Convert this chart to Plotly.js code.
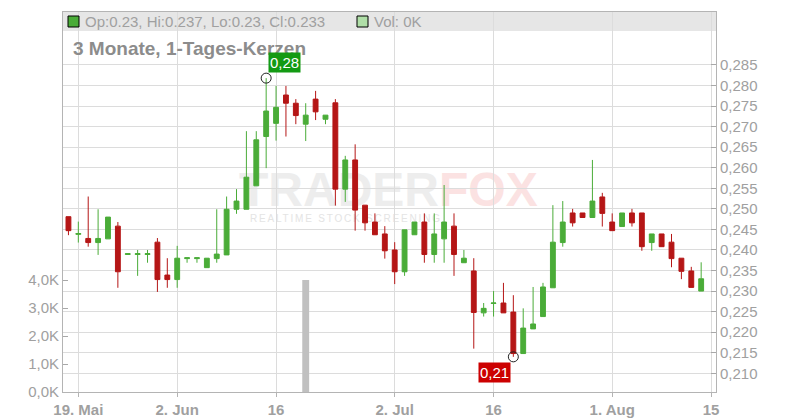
<!DOCTYPE html>
<html><head><meta charset="utf-8">
<script src="https://cdn.plot.ly/plotly-3.0.1.min.js"></script>
<style>
html,body{margin:0;padding:0;background:#fff;}
#wrap{position:relative;width:800px;height:420px;overflow:hidden;}
#wm1{position:absolute;left:239px;top:171px;font-family:'Liberation Sans',Arial,sans-serif;font-weight:bold;font-size:48px;line-height:38px;height:38px;white-space:nowrap;}
#wm2{position:absolute;left:250px;top:213.5px;font-family:'Liberation Sans',Arial,sans-serif;font-size:10px;line-height:10px;letter-spacing:1.8px;color:#e4e4e4;white-space:nowrap;}
#chart{position:absolute;left:0;top:0;width:800px;height:420px;}
</style></head>
<body><div id="wrap">
<div id="wm1"><span style="color:#ededed">TRADER</span><span style="color:#fbe2e2">FOX</span></div>
<div id="wm2">REALTIME STOCK SCREENING</div>
<div id="chart"></div>
</div>
<script>
const dates = ['2025-05-16',
 '2025-05-19','2025-05-20','2025-05-21','2025-05-22','2025-05-23',
 '2025-05-26','2025-05-27','2025-05-28','2025-05-29','2025-05-30',
 '2025-06-02','2025-06-03','2025-06-04','2025-06-05','2025-06-06',
 '2025-06-09','2025-06-10','2025-06-11','2025-06-12','2025-06-13',
 '2025-06-16','2025-06-17','2025-06-18','2025-06-19','2025-06-20',
 '2025-06-23','2025-06-24','2025-06-25','2025-06-26','2025-06-27',
 '2025-06-30','2025-07-01','2025-07-02','2025-07-03','2025-07-04',
 '2025-07-07','2025-07-08','2025-07-09','2025-07-10','2025-07-11',
 '2025-07-14','2025-07-15','2025-07-16','2025-07-17','2025-07-18',
 '2025-07-21','2025-07-22','2025-07-23','2025-07-24','2025-07-25',
 '2025-07-28','2025-07-29','2025-07-30','2025-07-31','2025-08-01',
 '2025-08-04','2025-08-05','2025-08-06','2025-08-07','2025-08-08',
 '2025-08-11','2025-08-12','2025-08-13','2025-08-14'];
const open = [.2481,.2438,.2428,.2418,.2427,.2458,.2389,.2389,.2389,.2419,
 .2339,.2328,.2379,.2379,.2357,.2379,.2388,.2499,.2499,.2556,
 .2676,.2708,.2777,.2757,.2706,.2767,.2718,.2758,.2548,.2619,
 .2509,.2468,.2439,.2400,.2347,.2437,.2468,.2389,.2427,.2458,
 .2369,.2349,.2247,.2270,.2271,.2249,.2148,.2208,.2238,.2308,
 .2418,.2490,.2490,.2479,.2529,.2468,.2457,.2490,.2490,.2418,
 .2439,.2419,.2380,.2349,.2300];
const high = [.2481,.2469,.2530,.2499,.2480,.2468,.2391,.2400,.2400,.2429,
 .2380,.2410,.2381,.2381,.2380,.2499,.2530,.2548,.2689,.2689,
 .2818,.2799,.2799,.2767,.2757,.2787,.2728,.2767,.2629,.2657,
 .2509,.2489,.2458,.2419,.2449,.2468,.2489,.2489,.2558,.2489,
 .2400,.2380,.2271,.2300,.2320,.2290,.2258,.2310,.2320,.2509,
 .2519,.2500,.2490,.2619,.2539,.2489,.2490,.2500,.2490,.2439,
 .2439,.2439,.2380,.2359,.2370];
const low = [.2436,.2418,.2408,.2388,.2427,.2308,.2389,.2337,.2369,.2298,
 .2308,.2308,.2369,.2369,.2357,.2369,.2388,.2488,.2499,.2556,
 .2599,.2666,.2676,.2706,.2665,.2716,.2706,.2508,.2517,.2447,
 .2447,.2437,.2379,.2317,.2337,.2437,.2369,.2369,.2369,.2337,
 .2369,.2160,.2238,.2238,.2247,.2140,.2148,.2208,.2238,.2308,
 .2408,.2457,.2479,.2479,.2457,.2447,.2457,.2457,.2398,.2398,
 .2408,.2358,.2329,.2309,.2300];
const close = [.2447,.2440,.2418,.2428,.2480,.2347,.2391,.2391,.2391,.2328,
 .2328,.2380,.2381,.2381,.2380,.2390,.2499,.2519,.2577,.2668,
 .2738,.2747,.2757,.2727,.2728,.2736,.2728,.2548,.2619,.2497,
 .2466,.2437,.2398,.2347,.2449,.2468,.2389,.2439,.2468,.2389,
 .2380,.2248,.2258,.2271,.2247,.2148,.2210,.2220,.2310,.2419,
 .2468,.2466,.2479,.2519,.2489,.2447,.2490,.2466,.2408,.2439,
 .2408,.2379,.2348,.2309,.2330];
const volume = dates.map(d => d === '2025-06-19' ? 4000 : 0);
const priceTicks = [0.210,0.215,0.220,0.225,0.230,0.235,0.240,0.245,0.250,0.255,0.260,0.265,0.270,0.275,0.280,0.285];
const volTicks = [0,1000,2000,3000,4000];
const volTickText = ['0,0K','1,0K','2,0K','3,0K','4,0K'];
const xTickVals = ['2025-05-19','2025-06-02','2025-06-16','2025-07-02','2025-07-16','2025-08-01','2025-08-15'];
const xTickText = ['19. Mai','2. Jun','16','2. Jul','16','1. Aug','15'];

const GREEN = '#4aac38', RED = '#b51616', GREY = '#a0a0a0', FONT = 'Liberation Sans, Arial, sans-serif';
const n = dates.length - 1;
let iMax = 0, iMin = 0;
high.forEach((v, i) => { if (v > high[iMax]) iMax = i; });
low.forEach((v, i) => { if (v < low[iMin]) iMin = i; });
const fmt3 = v => String(+v.toFixed(3));
const dec2 = v => v.toFixed(2).replace('.', ',');

const traces = [
 {type:'bar', x:dates, y:volume, yaxis:'y', marker:{color:'#c0c0c0'}, hoverinfo:'skip'},
 {type:'candlestick', x:dates, open:open, high:high, low:low, close:close, yaxis:'y2',
  increasing:{line:{color:GREEN,width:1}, fillcolor:GREEN},
  decreasing:{line:{color:RED,width:1}, fillcolor:RED},
  whiskerwidth:0, hoverinfo:'skip'},
 {type:'scatter', mode:'markers', x:[dates[iMax], dates[iMin]], y:[high[iMax], low[iMin]], yaxis:'y2',
  marker:{symbol:'circle-open', size:10, color:'#222', line:{width:1}}, hoverinfo:'skip'}
];

const PH = 380, PW = 653;
const layout = {
 width:800, height:420, margin:{l:63, r:84, t:12, b:28},
 paper_bgcolor:'rgba(0,0,0,0)', plot_bgcolor:'rgba(0,0,0,0)',
 separators:',.', showlegend:false, bargap:0.3,
 font:{family:FONT, color:GREY, size:15},
 xaxis:{type:'date', rangebreaks:[{bounds:['sat','mon']}],
  range:['2025-05-15 10:48','2025-08-15 12:00'], rangeslider:{visible:false},
  tickmode:'array', tickvals:xTickVals, ticktext:xTickText,
  tickfont:{family:FONT, size:15, color:GREY, weight:'bold'},
  showgrid:true, gridcolor:'#dcdcdc', gridwidth:1,
  showline:true, linecolor:'#b4b4b4', linewidth:1, mirror:true,
  ticks:'outside', ticklen:4, tickcolor:'#b4b4b4', zeroline:false},
 yaxis:{side:'left', range:[0, 13571], tickmode:'array', tickvals:volTicks, ticktext:volTickText,
  showgrid:false, zeroline:false, showline:true, linecolor:'#b4b4b4', linewidth:1,
  ticks:'inside', ticklen:5, tickcolor:'#a8a8a8', tickfont:{family:FONT, size:15, color:GREY}},
 yaxis2:{side:'right', overlaying:'y', range:[0.20545, 0.29789], tickmode:'array', tickvals:priceTicks,
  tickformat:'.3f', showgrid:true, gridcolor:'#dcdcdc', gridwidth:1, zeroline:false,
  showline:true, linecolor:'#b4b4b4', linewidth:1, ticks:'inside', ticklen:5, tickcolor:'#a8a8a8',
  tickfont:{family:FONT, size:15, color:GREY}},
 shapes:[
  {type:'rect', xref:'paper', yref:'paper', x0:0, x1:1, y0:1-19/PH, y1:1, fillcolor:'#e6e6e6', line:{width:0}, layer:'below'},
  {type:'rect', xref:'paper', yref:'paper', x0:5/PW, x1:16/PW, y0:(392-27)/PH, y1:(392-16)/PH, fillcolor:GREEN, line:{color:'#000', width:1}},
  {type:'rect', xref:'paper', yref:'paper', x0:294/PW, x1:305/PW, y0:(392-27)/PH, y1:(392-16)/PH, fillcolor:'#b0dfa8', line:{color:'#000', width:1}}
 ],
 annotations:[
  {xref:'paper', yref:'paper', x:0, y:1, xanchor:'left', yanchor:'middle', xshift:20, yshift:-9.5, showarrow:false,
   text:'Op:' + fmt3(open[n]) + ', Hi:' + fmt3(high[n]) + ', Lo:' + fmt3(low[n]) + ', Cl:' + fmt3(close[n]),
   font:{family:FONT, size:15, color:GREY}},
  {xref:'paper', yref:'paper', x:0, y:1, xanchor:'left', yanchor:'middle', xshift:309, yshift:-9.5, showarrow:false,
   text:'Vol: ' + Math.round(volume[n]/1000) + 'K', font:{family:FONT, size:15, color:GREY}},
  {xref:'paper', yref:'paper', x:0, y:1, xanchor:'left', yanchor:'middle', xshift:8, yshift:-36, showarrow:false,
   text:'3 Monate, 1-Tages-Kerzen', font:{family:FONT, size:19, color:'#8c8c8c', weight:'bold'}},
  {xref:'x', yref:'y2', x:dates[iMax], y:high[iMax], xanchor:'left', yanchor:'bottom', xshift:2, yshift:5, showarrow:false,
   text:dec2(high[iMax]), bgcolor:'#139a13', borderpad:1, font:{family:FONT, size:15, color:'#fff'}},
  {xref:'x', yref:'y2', x:dates[iMin], y:low[iMin], xanchor:'right', yanchor:'top', xshift:-2.5, yshift:-5.5, showarrow:false,
   text:dec2(low[iMin]), bgcolor:'#cc0000', borderpad:1, font:{family:FONT, size:15, color:'#fff'}}
 ]
};
Plotly.newPlot('chart', traces, layout, {staticPlot:true, displayModeBar:false});
</script>
</body></html>
